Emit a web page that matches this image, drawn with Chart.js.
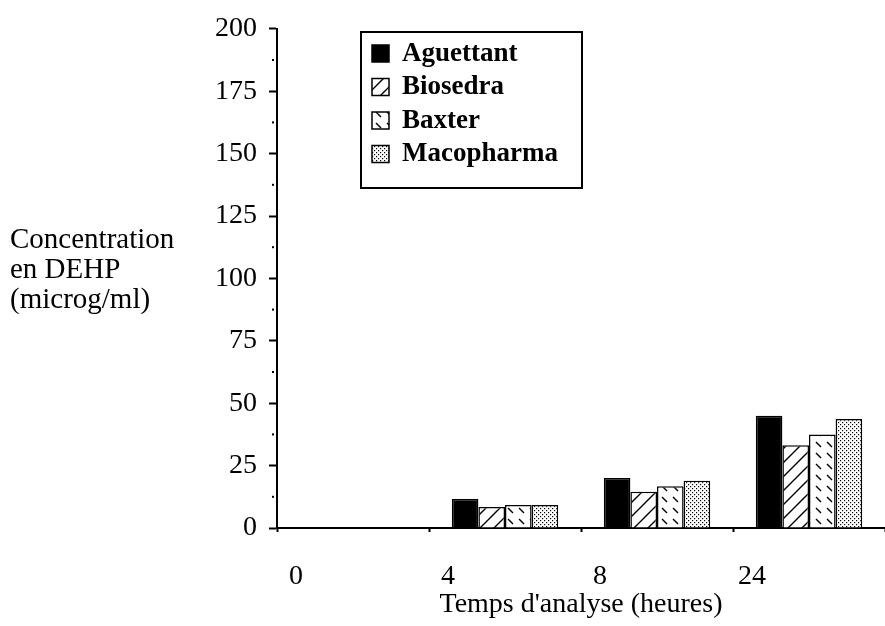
<!DOCTYPE html>
<html>
<head>
<meta charset="utf-8">
<script src="https://cdn.jsdelivr.net/npm/chart.js@4.4.0/dist/chart.umd.min.js"></script>
<style>
html,body{margin:0;padding:0;background:#fff}
#wrap{width:885px;height:626px}
</style>
</head>
<body>
<div id="wrap"><canvas id="c"></canvas></div>
<script>
// data
var hours = ['0', '4', '8', '24'];
var aguettant  = [0, 11.6, 20.0, 45.0];
var biosedra   = [0, 8.4, 14.5, 33.2];
var baxter     = [0, 9.2, 16.7, 37.5];
var macopharma = [0, 9.2, 18.9, 43.7];
var yTicks = [0, 25, 50, 75, 100, 125, 150, 175, 200];
var yTitle = ['Concentration', 'en DEHP', '(microg/ml)'];
var xTitle = "Temps d'analyse (heures)";

var serif = 'Liberation Serif';

function tile(n, draw){
    var c = document.createElement('canvas');
    c.width = n; c.height = n;
    var g = c.getContext('2d');
    g.fillStyle = '#fff';
    g.fillRect(0, 0, n, n);
    g.strokeStyle = '#000';
    g.fillStyle = '#000';
    draw(g, n);
    return g.createPattern(c, 'repeat');
}

// diagonal hatch  /
var hatch = tile(14, function(g, n){
    g.lineWidth = 1.4;
    g.beginPath();
    g.moveTo(0, n); g.lineTo(n, 0);
    g.moveTo(-4, 4); g.lineTo(4, -4);
    g.moveTo(n - 4, n + 4); g.lineTo(n + 4, n - 4);
    g.stroke();
});
// short dashes  \
var dashes = tile(11, function(g, n){
    g.lineWidth = 1.4;
    g.beginPath();
    g.moveTo(2, 2); g.lineTo(7, 7);
    g.stroke();
});
// stipple
var dots = tile(4, function(g, n){
    g.fillRect(0, 0, 1.2, 1.2);
    g.fillRect(2, 2, 1.2, 1.2);
});

var names = ['Aguettant', 'Biosedra', 'Baxter', 'Macopharma'];
var series = [aguettant, biosedra, baxter, macopharma];
var fills = ['#000', hatch, dashes, dots];

var datasets = series.map(function(s, i){
    return {
        label: names[i],
        data: s,
        backgroundColor: fills[i],
        borderColor: '#000',
        borderWidth: 1.5,
        categoryPercentage: 0.7,
        barPercentage: 1.0
    };
});

var extras = {
    id: 'extras',
    afterDraw: function(chart){
        var ctx = chart.ctx;
        var ys = chart.scales.y;
        var left = chart.chartArea.left;
        ctx.save();
        // minor dots on the y axis
        ctx.fillStyle = '#000';
        for (var v = 12.5; v < 200; v += 25) {
            var py = ys.getPixelForValue(v);
            ctx.fillRect(left - 5, py - 1, 2, 2);
        }
        // y title, not rotated
        ctx.font = '29px "' + serif + '"';
        ctx.textAlign = 'left';
        ctx.textBaseline = 'middle';
        yTitle.forEach(function(t, i){
            ctx.fillText(t, 10, 240 + i * 30);
        });
        // legend box
        ctx.lineWidth = 2;
        ctx.strokeStyle = '#000';
        ctx.strokeRect(361, 32, 221, 156);
        ctx.font = 'bold 27px "' + serif + '"';
        chart.data.datasets.forEach(function(d, i){
            var cy = 53 + i * 33.5;
            ctx.fillStyle = d.backgroundColor;
            ctx.fillRect(372, cy - 8, 17, 17);
            ctx.lineWidth = 1.5;
            ctx.strokeRect(372, cy - 8, 17, 17);
            ctx.fillStyle = '#000';
            ctx.fillText(d.label, 402, cy + 1);
        });
        ctx.restore();
    }
};

new Chart(document.getElementById('c'), {
    type: 'bar',
    data: { labels: hours, datasets: datasets },
    options: {
        responsive: true,
        maintainAspectRatio: false,
        animation: false,
        devicePixelRatio: 1,
        layout: { padding: { top: 22, right: 0, left: 0, bottom: 0 } },
        plugins: { legend: { display: false }, tooltip: { enabled: false } },
        scales: {
            x: {
                offset: true,
                afterFit: function(s){ s.height = 98; },
                grid: { offset: true, drawOnChartArea: false, tickLength: 4, tickWidth: 2, tickColor: '#000' },
                border: { color: '#000', width: 2 },
                ticks: { color: '#000', font: { family: serif, size: 28 }, padding: 28, labelOffset: -57, maxRotation: 0 },
                title: { display: true, text: xTitle, color: '#000', font: { family: serif, size: 28 }, padding: { top: 0, bottom: 5 } }
            },
            y: {
                min: 0,
                max: 200,
                afterFit: function(s){ s.width = 277; },
                afterBuildTicks: function(s){
                    var t = yTicks.map(function(v){ return { value: v }; });
                    s.ticks = t;
                },
                grid: { drawOnChartArea: false, tickLength: 8, tickWidth: 2, tickColor: '#000' },
                border: { color: '#000', width: 2 },
                ticks: { color: '#000', font: { family: serif, size: 28 }, padding: 12 }
            }
        }
    },
    plugins: [extras]
});
</script>
</body>
</html>
